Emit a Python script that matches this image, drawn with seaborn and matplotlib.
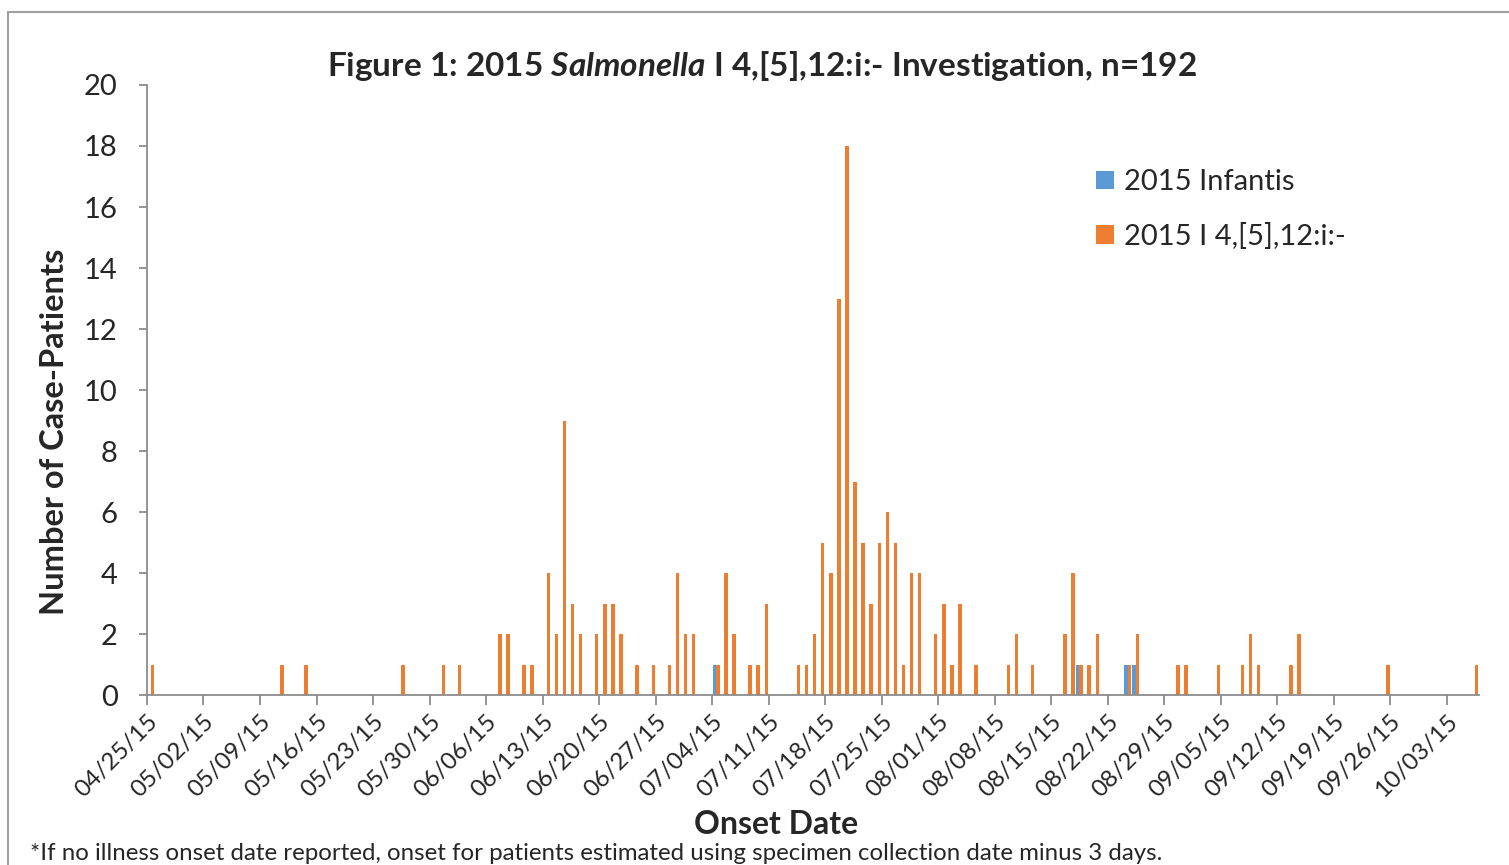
import pandas as pd
import seaborn as sns
import matplotlib.pyplot as plt
import numpy as np
from matplotlib.patches import Rectangle

# Case counts by onset date
orange_dates = ["2015-04-25", "2015-05-11", "2015-05-14", "2015-05-26", "2015-05-31",
                "2015-06-02", "2015-06-07", "2015-06-08", "2015-06-10", "2015-06-11",
                "2015-06-13", "2015-06-14", "2015-06-15", "2015-06-16", "2015-06-17",
                "2015-06-19", "2015-06-20", "2015-06-21", "2015-06-22", "2015-06-24",
                "2015-06-26", "2015-06-28", "2015-06-29", "2015-06-30", "2015-07-01",
                "2015-07-04", "2015-07-05", "2015-07-06", "2015-07-08", "2015-07-09",
                "2015-07-10", "2015-07-14", "2015-07-15", "2015-07-16", "2015-07-17",
                "2015-07-18", "2015-07-19", "2015-07-20", "2015-07-21", "2015-07-22",
                "2015-07-23", "2015-07-24", "2015-07-25", "2015-07-26", "2015-07-27",
                "2015-07-28", "2015-07-29", "2015-07-31", "2015-08-01", "2015-08-02",
                "2015-08-03", "2015-08-05", "2015-08-09", "2015-08-10", "2015-08-12",
                "2015-08-16", "2015-08-17", "2015-08-18", "2015-08-19", "2015-08-20",
                "2015-08-24", "2015-08-25", "2015-08-30", "2015-08-31", "2015-09-04",
                "2015-09-07", "2015-09-08", "2015-09-09", "2015-09-13", "2015-09-14",
                "2015-09-25", "2015-10-06"]
orange_counts = [1, 1, 1, 1, 1,
                 1, 2, 2, 1, 1,
                 4, 2, 9, 3, 2,
                 2, 3, 3, 2, 1,
                 1, 1, 4, 2, 2,
                 1, 4, 2, 1, 1,
                 3, 1, 1, 2, 5,
                 4, 13, 18, 7, 5,
                 3, 5, 6, 5, 1,
                 4, 4, 2, 3, 1,
                 3, 1, 1, 2, 1,
                 2, 4, 1, 1, 2,
                 1, 2, 1, 1, 1,
                 1, 2, 1, 1, 2,
                 1, 1]
blue_dates = ["2015-07-04", "2015-08-18", "2015-08-24", "2015-08-25"]
blue_counts = [1, 1, 1, 1]

series_names = ["2015 Infantis", "2015 I 4,[5],12:i:-"]
colors = ["#5B9BD5", "#ED7D31"]

all_days = pd.date_range("2015-04-25", "2015-10-06", freq="D")
day_labels = [d.strftime("%m/%d/%y") for d in all_days]

df = pd.concat([
    pd.DataFrame({"date": pd.to_datetime(blue_dates), "count": blue_counts, "series": series_names[0]}),
    pd.DataFrame({"date": pd.to_datetime(orange_dates), "count": orange_counts, "series": series_names[1]}),
])
df["day"] = df["date"].dt.strftime("%m/%d/%y")

sns.set_style("white")
plt.rcParams["font.family"] = ["Lato", "DejaVu Sans"]
plt.rcParams["mathtext.fontset"] = "custom"
plt.rcParams["mathtext.it"] = "Lato:italic:bold"
plt.rcParams["mathtext.rm"] = "Lato:bold"

fig = plt.figure(figsize=(15.09, 8.65), dpi=100)
ax = fig.add_axes([0.0974, 0.196, 0.8827, 0.7058])

sns.barplot(data=df, x="day", y="count", hue="series", order=day_labels,
            hue_order=series_names, palette=colors, width=0.85, saturation=1,
            errorbar=None, linewidth=0, ax=ax)

ax.set_ylim(0, 20)
ax.set_yticks(range(0, 21, 2))
ax.set_xlim(-0.5, len(day_labels) - 0.5)
ticks = np.arange(0, len(day_labels), 7)
ax.set_xticks(ticks - 0.5)
ax.set_xticklabels([day_labels[i] for i in ticks], rotation=45, ha="right",
                   rotation_mode="anchor")
ax.set_xlabel("")
ax.set_ylabel("")

for s in ["top", "right"]:
    ax.spines[s].set_visible(False)
for s in ["left", "bottom"]:
    ax.spines[s].set_color("#8C8C8C")
    ax.spines[s].set_linewidth(1.3)
ax.tick_params(axis="y", length=6, width=1.3, color="#8C8C8C", labelsize=21, pad=15,
               left=True, direction="out")
ax.tick_params(axis="x", length=7, width=1.3, color="#8C8C8C", labelsize=17.5, pad=4,
               direction="out", bottom=True)

ax.legend(loc="upper left", bbox_to_anchor=(1070 / 1509, 1 - 143 / 865),
          bbox_transform=fig.transFigure, frameon=False, fontsize=21,
          handlelength=0.6, handleheight=0.6, handletextpad=0.35, labelspacing=0.95)

fig.text(0.5 * (330 + 1193) / 1509, 1 - 66 / 865,
         "Figure 1: 2015 $\\mathit{Salmonella}$ I 4,[5],12:i:- Investigation, n=192",
         ha="center", va="center", fontsize=24, fontweight="bold")
fig.text(55 / 1509, 1 - 432 / 865, "Number of Case-Patients", rotation=90,
         ha="center", va="center", fontsize=23.5, fontweight="bold")
fig.text(776 / 1509, 1 - 825 / 865, "Onset Date", ha="center", va="center",
         fontsize=23, fontweight="bold")
fig.text(30 / 1509, 1 - 853 / 865,
         "*If no illness onset date reported, onset for patients estimated using specimen collection date minus 3 days.",
         ha="left", va="center", fontsize=17.3)

fig.patches.append(Rectangle((8 / 1509, -0.05), 1.1, 1 - 12 / 865 + 0.05,
                             transform=fig.transFigure, fill=False,
                             edgecolor="#A0A0A0", linewidth=1.5))

fig.savefig("out.png", dpi=100)
